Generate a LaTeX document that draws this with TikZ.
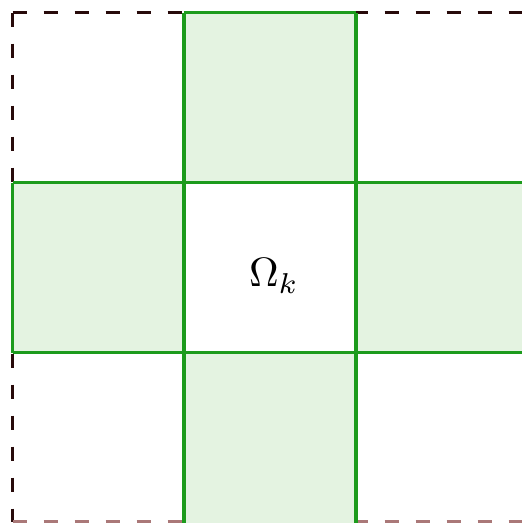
\documentclass[tikz,border=0pt]{standalone}
\usepackage{tikz}
\definecolor{gline}{RGB}{28,155,28}
\definecolor{gfill}{RGB}{228,243,225}
\definecolor{bord}{RGB}{40,10,10}
\definecolor{bordlight}{RGB}{170,120,120}
\begin{document}
\begin{tikzpicture}[x=1pt,y=-1pt,
  grid/.style={draw=gline,line width=3.5pt},
  outer/.style={draw=bord,line width=3.5pt,dash pattern=on 14pt off 17pt}]
\useasboundingbox (0,0) rectangle (522,523);
\clip (0,0) rectangle (522,523);
\draw[outer] (12.5,12.5) -- (530,12.5);
\draw[outer] (12.5,12.5) -- (12.5,522);
\draw[outer,draw=bordlight] (12.5,522) -- (530,522);
\fill[gfill] (184,12.5) rectangle (356,182.5);
\fill[gfill] (12.5,182.5) rectangle (184,352.5);
\fill[gfill] (356,182.5) rectangle (540,352.5);
\fill[gfill] (184,352.5) rectangle (356,540);
\draw[grid] (184,12.5) -- (184,540);
\draw[grid] (356,12.5) -- (356,540);
\draw[grid] (12.5,182.5) -- (540,182.5);
\draw[grid] (12.5,352.5) -- (540,352.5);
\draw[grid] (184,12.5) -- (356,12.5);
\draw[grid] (12.5,182.5) -- (12.5,352.5);
\node (omega) at (274,276) {\scalebox{4.1}{$\Omega_k$}};
\end{tikzpicture}
\end{document}
